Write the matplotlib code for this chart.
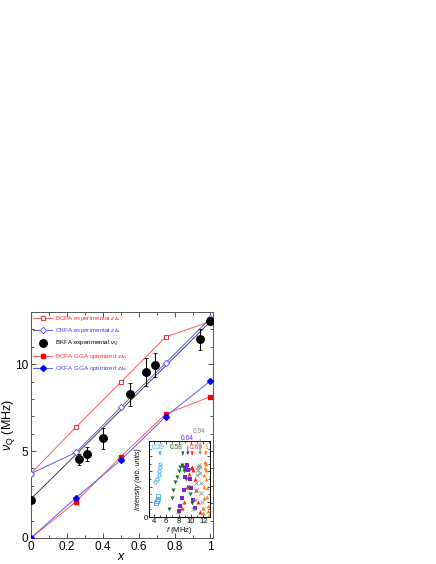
import matplotlib
matplotlib.use("Agg")
import matplotlib.pyplot as plt
from matplotlib.ticker import MultipleLocator

plt.rcParams['font.family'] = ['Liberation Sans', 'DejaVu Sans']
plt.rcParams['mathtext.fontset'] = 'custom'
plt.rcParams['mathtext.rm'] = 'Liberation Sans'
plt.rcParams['mathtext.it'] = 'Liberation Sans:italic'

# ---- main data ----
x_calc = [0.0, 0.25, 0.5, 0.75, 1.0]
bcfa_exp = [3.71, 6.37, 8.96, 11.56, 12.46]
ckfa_exp = [3.71, 4.92, 7.52, 10.06, 12.65]
bcfa_gga = [0.0, 2.08, 4.67, 7.13, 8.13]
ckfa_gga = [0.0, 2.31, 4.48, 6.98, 9.04]

bkfa_x = [0.0, 0.268, 0.311, 0.40, 0.552, 0.639, 0.69, 0.94, 1.0]
bkfa_y = [2.21, 4.52, 4.81, 5.73, 8.27, 9.54, 9.96, 11.44, 12.46]
bkfa_err = [0.0, 0.3, 0.4, 0.6, 0.65, 0.8, 0.7, 0.6, 0.1]
bkfa_fit_x = [0.0, 1.0]
bkfa_fit_y = [2.25, 12.45]

# ---- inset spectra ----
cyan_circ_f = [4.2, 4.5, 4.8, 4.9, 5.0, 5.05]
cyan_circ_i = [0.46, 0.50, 0.55, 0.60, 0.66, 0.70]
cyan_sq_f = [4.3, 4.45, 4.6, 4.7]
cyan_sq_i = [0.18, 0.21, 0.24, 0.27]
green_f = [6.4, 6.9, 7.1, 7.4, 7.7, 8.0, 8.3, 8.5, 8.7, 8.9, 9.2, 9.5, 9.8, 10.2]
green_i = [0.11, 0.25, 0.35, 0.46, 0.53, 0.60, 0.66, 0.68, 0.66, 0.60, 0.50, 0.40, 0.30, 0.18]
purple_f = [8.1, 8.25, 8.5, 8.8, 9.0, 9.2, 9.4, 9.6, 9.8, 10.0, 10.3, 10.7]
purple_i = [0.08, 0.14, 0.25, 0.36, 0.52, 0.64, 0.68, 0.62, 0.50, 0.38, 0.22, 0.12]
red_f = [7.9, 8.6, 8.9, 9.3, 9.7, 10.0, 10.2, 10.4, 10.6, 10.9, 11.2, 11.5]
red_i = [0.08, 0.12, 0.20, 0.40, 0.56, 0.64, 0.66, 0.62, 0.50, 0.35, 0.20, 0.06]
gray_f = [10.4, 10.6, 10.8, 10.9, 11.0, 11.1, 11.2, 11.3, 11.4, 11.5, 11.6, 11.7, 11.8, 11.9]
gray_i = [0.10, 0.22, 0.35, 0.45, 0.55, 0.62, 0.66, 0.68, 0.66, 0.58, 0.45, 0.32, 0.20, 0.10]
orange_f = [11.9, 12.0, 12.1, 12.15, 12.2, 12.25, 12.3, 12.35, 12.4, 12.45, 12.5, 12.55, 12.6, 12.7, 12.8, 12.9]
orange_i = [0.05, 0.12, 0.25, 0.40, 0.55, 0.65, 0.72, 0.73, 0.70, 0.62, 0.50, 0.38, 0.26, 0.15, 0.08, 0.03]

spec_labels = ['0.39', '0.58', '0.64', '0.69', '0.94', '1']
spec_label_f = [4.7, 7.6, 9.4, 10.8, 11.3, 12.5]
spec_label_i = [0.92, 0.92, 1.03, 0.92, 1.12, 0.92]
spec_arrow_f = [5.0, 8.7, 9.5, 10.2, 11.5, 12.4]
spec_colors = ['#3fa9f5', '#1d6b1d', '#7a22d8', '#ff2020', '#888888', '#ff7f00']

RED_L = '#ff5a5a'
BLUE_L = '#5a5aff'

fig = plt.figure(figsize=(4.36, 5.64), dpi=100)
ax = fig.add_axes([0.0711, 0.0461, 0.4174, 0.4007])

ax.plot(bkfa_fit_x, bkfa_fit_y, color='#444444', lw=0.7, zorder=1)
h1, = ax.plot(x_calc, bcfa_exp, color=RED_L, lw=0.7, marker='s', ms=3.4, mfc='white',
              mec='#e03030', mew=0.7, zorder=3)
h2, = ax.plot(x_calc, ckfa_exp, color=BLUE_L, lw=0.7, marker='D', ms=3.2, mfc='white',
              mec='#6a5ae8', mew=0.7, zorder=3)
ax.errorbar(bkfa_x, bkfa_y, yerr=bkfa_err, fmt='o', color='black', ms=5.4,
            elinewidth=0.7, capsize=1.2, capthick=0.6, lw=0, zorder=4)
h3, = ax.plot([], [], 'o', color='black', ms=5.4)
h4, = ax.plot(x_calc, bcfa_gga, color=RED_L, lw=0.7, marker='s', ms=3.2, mfc='#ff0000',
              mec='#ff0000', zorder=3)
h5, = ax.plot(x_calc, ckfa_gga, color=BLUE_L, lw=0.7, marker='D', ms=3.0, mfc='#0000ff',
              mec='#0000ff', zorder=3)

ax.set_xlim(0, 1.014)
ax.set_ylim(0, 13)
ax.xaxis.set_major_locator(MultipleLocator(0.2))
ax.xaxis.set_minor_locator(MultipleLocator(0.1))
ax.yaxis.set_major_locator(MultipleLocator(5))
ax.yaxis.set_minor_locator(MultipleLocator(1))
ax.set_xticks([0, 0.2, 0.4, 0.6, 0.8, 1.0])
ax.set_xticklabels(['0', '0.2', '0.4', '0.6', '0.8', '1'])
ax.tick_params(which='both', direction='in', top=True, right=True, labelsize=8.5,
               width=0.6, colors='#333333', labelcolor='black')
ax.tick_params(which='major', length=3.5, pad=2)
ax.tick_params(which='minor', length=2)
for s in ax.spines.values():
    s.set_linewidth(0.7)
    s.set_color('#555555')
ax.set_xlabel(r'$x$', fontsize=9, labelpad=-1)
ax.set_ylabel(r'$\nu_{\rm Q}$ (MHz)', fontsize=9, labelpad=-1.5)

labels = [r'BCFA experimental $z_{\rm As}$', r'CKFA experimental $z_{\rm As}$',
          r'BKFA experimental $\nu_{\rm Q}$', r'BCFA GGA optimized $z_{\rm As}$',
          r'CKFA GGA optimized $z_{\rm As}$']
leg = ax.legend([h1, h2, h3, h4, h5], labels, loc='upper left', bbox_to_anchor=(0.0, 1.0),
                frameon=False, fontsize=4.5, handlelength=3.0, handletextpad=0.5,
                labelspacing=0.5, borderaxespad=0.15, borderpad=0.2)
txtcols = ['#ff3030', '#4040ff', 'black', '#ff3030', '#4040ff']
for t, c in zip(leg.get_texts(), txtcols):
    t.set_color(c)

# ---- inset ----
ins = fig.add_axes([0.3417, 0.0833, 0.1400, 0.1348])
ins.plot(cyan_circ_f, cyan_circ_i, 'o', ms=2.4, mfc='none', mec=spec_colors[0], mew=0.6)
ins.plot(cyan_sq_f, cyan_sq_i, 's', ms=2.2, mfc='none', mec=spec_colors[0], mew=0.6)
ins.plot(green_f, green_i, 'v', ms=2.9, color=spec_colors[1], mew=0)
ins.plot(red_f, red_i, '^', ms=2.9, color=spec_colors[3], mew=0)
ins.plot(purple_f, purple_i, 's', ms=2.7, color=spec_colors[2], mew=0)
ins.plot(gray_f, gray_i, 'x', ms=2.4, color=spec_colors[4], mew=0.5)
ins.plot(orange_f, orange_i, '^', ms=2.7, color=spec_colors[5], mew=0)

for lab, lf, li, af, c in zip(spec_labels, spec_label_f, spec_label_i, spec_arrow_f, spec_colors):
    ins.text(lf, li, lab, color=c, fontsize=4.8, ha='center', va='center', clip_on=False)
    ins.annotate('', xy=(af, 0.78), xytext=(af, li - 0.06),
                 arrowprops=dict(arrowstyle='-|>', color=c, lw=0.6, mutation_scale=4),
                 annotation_clip=False)

ins.set_xlim(3.2, 13.1)
ins.set_ylim(0, 1)
ins.xaxis.set_major_locator(MultipleLocator(2))
ins.xaxis.set_minor_locator(MultipleLocator(1))
ins.set_yticks([0, 0.2, 0.4, 0.6, 0.8, 1.0])
ins.set_yticklabels(['0', '', '', '', '', ''])
ins.yaxis.set_minor_locator(MultipleLocator(0.1))
ins.tick_params(which='both', direction='in', top=True, right=True, labelsize=5.5,
                width=0.5, pad=1)
ins.tick_params(which='major', length=2)
ins.tick_params(which='minor', length=1.2)
for s in ins.spines.values():
    s.set_linewidth(0.7)
ins.set_xlabel(r'$f$ (MHz)', fontsize=5.5, labelpad=0)
ins.set_ylabel('Intensity (arb. units)', fontsize=5, style='italic', labelpad=1)

fig.savefig('out.png', dpi=100)
